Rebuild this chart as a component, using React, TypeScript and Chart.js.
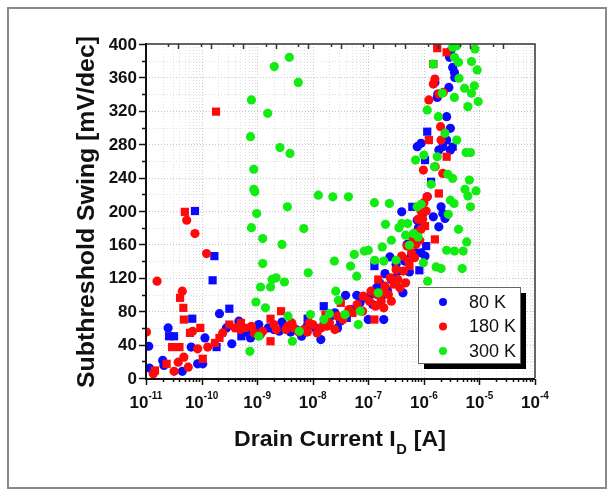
import React, { useEffect, useRef } from "react";
import { Chart, registerables } from "chart.js";

Chart.register(...registerables);

// ---- axis definitions ----
const xMin = 1e-11;
const xMax = 1e-4;
const xTickExponents = [-11, -10, -9, -8, -7, -6, -5, -4];
const yTicks = [0, 40, 80, 120, 160, 200, 240, 280, 320, 360, 400];
const yTitle = "Subthreshold Swing [mV/dec]";
const xTitleMain = "Drain Current I";
const xTitleSub = "D";
const xTitleEnd = " [A]";

// ---- series ----
const seriesLabels = ["80 K", "180 K", "300 K"];
const seriesColors = ["#0a0aff", "#ff0a0a", "#12ec12"];

// 80 K
const k80Circles: [number, number][] = [
  [1.12e-11, 38], [1.15e-11, 12], [2.0e-11, 21], [2.5e-11, 60], [2.1e-11, 15], [4.5e-11, 8],
  [6.5e-11, 37], [8.5e-11, 17], [1.05e-10, 17], [1.15e-10, 48], [2.1e-10, 77], [3.5e-10, 41],
  [2.8e-10, 60], [4.7e-10, 68], [7.6e-10, 48], [1.07e-9, 64], [2.0e-9, 58], [2.8e-9, 67],
  [6.3e-9, 50], [1.4e-8, 46], [2.5e-8, 78], [3.9e-8, 99], [6.2e-8, 99], [1.0e-7, 70],
  [1.9e-7, 70], [1.6e-7, 114], [2.45e-7, 145], [2.6e-7, 118], [4.2e-7, 102], [4.0e-7, 199],
  [5.5e-7, 127], [7.1e-7, 150], [7.6e-7, 189], [8.9e-7, 150], [1.05e-6, 146], [7.6e-7, 277],
  [8.9e-7, 281], [1.15e-6, 217], [1.48e-6, 193], [1.58e-6, 354], [1.74e-6, 336], [1.86e-6, 181],
  [2.04e-6, 205], [2.19e-6, 197], [2.4e-6, 191], [2.82e-6, 348], [3.0e-6, 299], [3.0e-6, 273],
  [2.57e-6, 313], [2.9e-6, 384], [3.05e-6, 392], [3.3e-6, 372], [3.55e-6, 366], [2.57e-6, 285],
  [2.19e-6, 277], [3.6e-6, 360], [1.78e-6, 340], [1.86e-6, 273],
  [6.3e-10, 55], [1.0e-9, 58], [1.58e-9, 60], [2.5e-9, 56], [5.0e-9, 58], [7.9e-9, 62],
  [1.12e-8, 60], [2.0e-8, 72], [3.16e-8, 68], [5.0e-8, 82], [7.1e-8, 90], [8.9e-8, 96],
  [1.12e-7, 100], [1.41e-7, 108], [2.0e-7, 125], [3.16e-7, 136], [4.5e-7, 140], [5.0e-7, 160],
  [1.2e-7, 88], [1.7e-7, 96], [2.2e-7, 105], [3.0e-7, 120], [3.5e-7, 128], [5.8e-7, 145],
  [6.6e-7, 170], [8.0e-7, 180], [9.3e-7, 195], [3.0e-9, 62], [4.0e-9, 55], [1.6e-8, 65],
  [2.8e-8, 60],
];
const k80Squares: [number, number][] = [
  [2.6e-11, 50], [3.2e-11, 50], [6.8e-11, 71], [7.6e-11, 200], [1.7e-10, 146], [1.58e-10, 117],
  [1.86e-10, 37], [3.16e-10, 83], [5.2e-10, 50], [8.1e-9, 71], [1.58e-8, 86], [4.1e-8, 72],
  [1.29e-7, 134], [6.2e-7, 205], [8.3e-7, 129], [1.1e-6, 158], [1.15e-6, 295], [1.05e-6, 261],
  [1.35e-6, 235], [3.3e-6, 277],
];

// 180 K
const k180Circles: [number, number][] = [
  [1.02e-11, 55], [1.35e-11, 5], [1.58e-11, 116], [3.2e-11, 8], [3.8e-11, 19], [4.5e-11, 104],
  [5.4e-11, 189], [4.8e-11, 25], [5.75e-11, 13], [6.9e-11, 56], [7.6e-11, 173], [8.5e-11, 35],
  [1.23e-10, 149], [1.29e-10, 37], [2.4e-10, 54], [4.0e-10, 60], [8.9e-10, 54], [1.15e-9, 52],
  [2.2e-9, 58], [3.3e-9, 58], [4.6e-9, 60], [6.9e-9, 58], [8.7e-9, 66], [1.2e-8, 54],
  [2.5e-8, 58], [3.5e-8, 70], [7.9e-8, 80], [1.78e-7, 102], [1.9e-7, 84], [2.6e-7, 92],
  [3.7e-7, 108], [4.7e-7, 114], [6.8e-7, 144], [8.9e-7, 178], [9.8e-7, 249], [1.15e-6, 217],
  [1.23e-6, 333], [1.48e-6, 352], [1.58e-6, 358], [1.6e-6, 253], [2.04e-6, 285], [2.19e-6, 245],
  [2.24e-6, 342], [2.0e-6, 301], [1.86e-6, 340],
  [5.0e-10, 58], [7.9e-10, 62], [1.26e-9, 56], [2.0e-9, 64], [3.55e-9, 62], [5.6e-9, 55],
  [1.0e-8, 64], [1.41e-8, 60], [2.0e-8, 66], [2.8e-8, 74], [4.5e-8, 82], [6.3e-8, 88],
  [8.1e-8, 98], [1.12e-7, 104], [1.41e-7, 100], [2.0e-7, 110], [2.5e-7, 120], [3.16e-7, 130],
  [4.0e-7, 146], [5.0e-7, 158], [6.3e-7, 168], [7.9e-7, 190], [8.9e-7, 200], [1.0e-6, 210],
  [1.05e-7, 92], [1.35e-7, 86], [1.7e-7, 92], [2.3e-7, 100], [3.4e-7, 118], [4.3e-7, 128],
  [5.3e-7, 140], [6.0e-7, 150], [7.2e-7, 160], [8.4e-7, 165], [9.5e-7, 190], [1.1e-6, 200],
  [4.2e-9, 66], [8.0e-9, 55], [1.8e-8, 62],
];
const k180Squares: [number, number][] = [
  [1.45e-11, 9], [2.35e-11, 17], [2.95e-11, 37], [4.0e-11, 37], [4.1e-11, 96], [4.7e-11, 84],
  [4.8e-11, 70], [5.0e-11, 199], [6.2e-11, 54], [9.5e-11, 60], [1.05e-10, 23], [1.74e-10, 42],
  [1.82e-10, 319], [2.1e-10, 48], [3.16e-10, 64], [5.1e-10, 66], [6.0e-10, 60], [1.74e-9, 71],
  [1.74e-9, 44], [2.7e-9, 80], [1.7e-8, 76], [3.2e-8, 90], [5.2e-8, 78], [1.29e-7, 70],
  [1.51e-7, 118], [2.9e-7, 112], [5.5e-7, 134], [7.4e-7, 174], [1.05e-6, 182], [1.23e-6, 285],
  [1.48e-6, 376], [1.74e-6, 395], [1.86e-6, 221], [1.58e-6, 166], [2.57e-6, 390], [2.57e-6, 265],
];

// 300 K
const k300Circles: [number, number][] = [
  [7.4e-10, 32], [7.6e-10, 289], [7.9e-10, 333], [7.9e-10, 180], [8.7e-10, 226], [8.7e-10, 250],
  [9.1e-10, 223], [9.5e-10, 91], [9.8e-10, 197], [1.07e-9, 50], [1.15e-9, 109], [1.26e-9, 137],
  [1.26e-9, 167], [1.41e-9, 84], [1.55e-9, 317], [1.74e-9, 109], [1.86e-9, 118], [2.04e-9, 373],
  [2.2e-9, 120], [2.57e-9, 276], [2.8e-9, 160], [3.1e-9, 115], [3.5e-9, 205], [3.6e-9, 74],
  [3.8e-9, 384], [3.9e-9, 269], [4.3e-9, 44], [5.5e-9, 354], [5.75e-9, 56], [6.9e-9, 179],
  [8.3e-9, 126], [9.1e-9, 76], [1.26e-8, 219], [1.58e-8, 70], [2.0e-8, 77], [2.3e-8, 217],
  [2.45e-8, 140], [2.6e-8, 104], [2.9e-8, 93], [3.8e-8, 76], [4.4e-8, 217], [4.8e-8, 134],
  [5.6e-8, 148], [6.2e-8, 122], [6.6e-8, 64], [7.2e-8, 80], [8.5e-8, 152], [1.0e-7, 153],
  [1.29e-7, 210], [1.3e-7, 141], [1.51e-7, 102], [1.78e-7, 157], [1.9e-7, 140], [2.04e-7, 184],
  [2.4e-7, 209], [2.6e-7, 165], [3.16e-7, 141], [3.55e-7, 180], [4.0e-7, 185], [4.7e-7, 171],
  [5.1e-7, 185], [5.5e-7, 159], [6.5e-7, 173], [7.1e-7, 261], [7.6e-7, 205], [7.9e-7, 169],
  [8.9e-7, 208], [9.8e-7, 138], [1.0e-6, 267], [1.15e-6, 321], [1.17e-6, 116], [1.35e-6, 232],
  [1.48e-6, 376], [1.55e-6, 253], [1.66e-6, 133], [1.74e-6, 265], [1.82e-6, 313], [2.04e-6, 131],
  [2.14e-6, 341], [2.4e-6, 293], [2.57e-6, 153], [2.7e-6, 244], [2.75e-6, 196], [3.0e-6, 213],
  [3.3e-6, 239], [3.55e-6, 152], [3.55e-6, 336], [3.9e-6, 285], [3.9e-6, 398], [3.55e-6, 384],
  [4.2e-6, 378], [4.3e-6, 359], [4.2e-6, 178], [3.5e-6, 209], [4.9e-6, 131], [5.1e-6, 152],
  [5.4e-6, 347], [5.75e-6, 270], [5.5e-6, 226], [6.2e-6, 218], [5.9e-6, 163], [6.2e-6, 325],
  [6.9e-6, 205], [7.2e-6, 341], [6.9e-6, 270], [7.2e-6, 379], [8.1e-6, 350], [8.3e-6, 394],
  [8.7e-6, 224], [9.1e-6, 369], [9.5e-6, 331], [6.6e-6, 237], [3.3e-6, 396],
];

const toPoints = (arr: [number, number][]) => arr.map(([x, y]) => ({ x, y }));

const FONT = '"Liberation Sans", Arial, sans-serif';

const decorPlugin = {
  id: "decor",
  beforeDatasetsDraw(chart: any) {
    const { ctx, chartArea: a, scales } = chart;
    const x = scales.x;
    const y = scales.y;
    ctx.save();
    ctx.lineWidth = 1;
    ctx.setLineDash([1, 2]);
    for (let e = -11; e < -4; e++) {
      for (let m = 1; m < 10; m++) {
        const px = Math.round(x.getPixelForValue(m * Math.pow(10, e))) + 0.5;
        ctx.strokeStyle = m === 1 ? "#c4c4c4" : "#e0e0e0";
        ctx.beginPath();
        ctx.moveTo(px, a.top);
        ctx.lineTo(px, a.bottom);
        ctx.stroke();
      }
    }
    for (let v = 20; v < 400; v += 20) {
      const py = Math.round(y.getPixelForValue(v)) + 0.5;
      ctx.strokeStyle = v % 40 === 0 ? "#c4c4c4" : "#e0e0e0";
      ctx.beginPath();
      ctx.moveTo(a.left, py);
      ctx.lineTo(a.right, py);
      ctx.stroke();
    }
    ctx.restore();
  },
  afterDatasetsDraw(chart: any) {
    const { ctx, chartArea: a, scales } = chart;
    const x = scales.x;
    const y = scales.y;
    ctx.save();
    ctx.setLineDash([]);

    // frame
    ctx.strokeStyle = "#333";
    ctx.lineWidth = 1.5;
    ctx.beginPath();
    ctx.moveTo(a.left, a.top);
    ctx.lineTo(a.right, a.top);
    ctx.lineTo(a.right, a.bottom);
    ctx.stroke();
    ctx.strokeStyle = "#111";
    ctx.lineWidth = 2;
    ctx.beginPath();
    ctx.moveTo(a.left, a.top - 1);
    ctx.lineTo(a.left, a.bottom + 1);
    ctx.lineTo(a.right, a.bottom + 1);
    ctx.stroke();

    // left ticks
    ctx.lineWidth = 1.5;
    ctx.strokeStyle = "#111";
    for (let v = 0; v <= 400; v += 20) {
      const py = Math.round(y.getPixelForValue(v)) + 0.5;
      const len = v % 40 === 0 ? 6 : 3;
      ctx.beginPath();
      ctx.moveTo(a.left - 1, py);
      ctx.lineTo(a.left - 1 - len, py);
      ctx.stroke();
    }
    // bottom ticks
    for (let e = -11; e <= -4; e++) {
      for (let m = 1; m < 10; m++) {
        if (e === -4 && m > 1) break;
        const px = Math.round(x.getPixelForValue(m * Math.pow(10, e))) + 0.5;
        const len = m === 1 ? 6 : 3;
        ctx.beginPath();
        ctx.moveTo(px, a.bottom + 1);
        ctx.lineTo(px, a.bottom + 1 + len);
        ctx.stroke();
      }
    }
    // top ticks (inward)
    ctx.strokeStyle = "#333";
    const step = (a.right - a.left) / 12;
    for (let k = 1; k < 12; k++) {
      const pl = Math.round(a.left + k * step) + 0.5;
      ctx.beginPath();
      ctx.moveTo(pl, a.top);
      ctx.lineTo(pl, a.top + 5);
      ctx.stroke();
      const ps = Math.round(a.left + k * step - 10) + 0.5;
      ctx.beginPath();
      ctx.moveTo(ps, a.top);
      ctx.lineTo(ps, a.top + 3);
      ctx.stroke();
    }

    // y tick labels
    ctx.fillStyle = "#111";
    ctx.font = `bold 17px ${FONT}`;
    ctx.textAlign = "right";
    ctx.textBaseline = "middle";
    for (const v of yTicks) {
      ctx.fillText(String(v), a.left - 9, y.getPixelForValue(v) + 1);
    }

    // x tick labels: 10^e
    ctx.textAlign = "left";
    ctx.textBaseline = "alphabetic";
    for (const e of xTickExponents) {
      const px = x.getPixelForValue(Math.pow(10, e));
      ctx.font = `bold 17px ${FONT}`;
      const wb = ctx.measureText("10").width;
      ctx.font = `bold 10px ${FONT}`;
      const exp = String(e);
      const we = ctx.measureText(exp).width;
      const start = px - (wb + we) / 2;
      ctx.font = `bold 17px ${FONT}`;
      ctx.fillText("10", start, a.bottom + 30);
      ctx.font = `bold 10px ${FONT}`;
      ctx.fillText(exp, start + wb, a.bottom + 21);
    }

    // x title with subscript
    ctx.save();
    const cx = 340;
    const by = 446;
    ctx.translate(cx, by);
    ctx.scale(1.05, 1);
    ctx.font = `bold 22px ${FONT}`;
    const w1 = ctx.measureText(xTitleMain).width;
    const w3 = ctx.measureText(xTitleEnd).width;
    ctx.font = `bold 14px ${FONT}`;
    const w2 = ctx.measureText(xTitleSub).width;
    let sx = -(w1 + w2 + 1 + w3) / 2;
    ctx.font = `bold 22px ${FONT}`;
    ctx.fillText(xTitleMain, sx, 0);
    sx += w1;
    ctx.font = `bold 14px ${FONT}`;
    ctx.fillText(xTitleSub, sx + 0.5, 8);
    sx += w2 + 1;
    ctx.font = `bold 22px ${FONT}`;
    ctx.fillText(xTitleEnd, sx, 0);
    ctx.restore();

    // y title rotated
    ctx.save();
    ctx.translate(87, 212);
    ctx.rotate(-Math.PI / 2);
    ctx.textAlign = "center";
    ctx.textBaseline = "middle";
    ctx.font = `bold 24px ${FONT}`;
    const wy = ctx.measureText(yTitle).width;
    ctx.scale(352 / wy, 1);
    ctx.fillText(yTitle, 0, 0);
    ctx.restore();

    // legend
    const lx = 418, ly = 287, lw = 102, lh = 76;
    ctx.fillStyle = "#000";
    ctx.fillRect(lx + 6, ly + 6, lw, lh);
    ctx.fillStyle = "#fff";
    ctx.fillRect(lx, ly, lw, lh);
    ctx.strokeStyle = "#666";
    ctx.lineWidth = 1;
    ctx.strokeRect(lx + 0.5, ly + 0.5, lw, lh);
    ctx.font = `18px ${FONT}`;
    ctx.textAlign = "left";
    ctx.textBaseline = "middle";
    seriesLabels.forEach((lab, i) => {
      const ry = ly + 15 + i * 24.5;
      ctx.fillStyle = seriesColors[i];
      ctx.beginPath();
      ctx.arc(lx + 25, ry, 4, 0, Math.PI * 2);
      ctx.fill();
      ctx.fillStyle = "#111";
      ctx.fillText(lab, lx + 51, ry + 1);
    });

    // outer border
    ctx.strokeStyle = "#8a8a8a";
    ctx.lineWidth = 2;
    ctx.strokeRect(8, 8, 598, 480);

    ctx.restore();
  },
};

export default function App() {
  const ref = useRef<HTMLCanvasElement | null>(null);
  useEffect(() => {
    document.body.style.margin = "0";
    const canvas = ref.current;
    if (!canvas) return;
    const circle = { pointStyle: "circle", pointRadius: 4.6, borderWidth: 0, clip: 0 };
    const square = { pointStyle: "rect", pointRadius: 5.8, borderWidth: 0, clip: 0 };
    const chart = new Chart(canvas, {
      type: "scatter",
      data: {
        datasets: [
          { label: seriesLabels[0], data: toPoints(k80Circles), backgroundColor: seriesColors[0], order: 3, ...circle },
          { label: seriesLabels[0] + " sq", data: toPoints(k80Squares), backgroundColor: seriesColors[0], order: 3, ...square },
          { label: seriesLabels[1], data: toPoints(k180Circles), backgroundColor: seriesColors[1], order: 2, ...circle },
          { label: seriesLabels[1] + " sq", data: toPoints(k180Squares), backgroundColor: seriesColors[1], order: 2, ...square },
          { label: seriesLabels[2], data: toPoints(k300Circles), backgroundColor: seriesColors[2], order: 1, ...circle },
        ] as any,
      },
      options: {
        animation: false,
        responsive: false,
        devicePixelRatio: 1,
        events: [],
        layout: { padding: { left: 146, top: 44, right: 78, bottom: 115 } },
        scales: {
          x: { type: "logarithmic", min: xMin, max: xMax, display: false },
          y: { type: "linear", min: 0, max: 400, display: false },
        },
        plugins: { legend: { display: false }, tooltip: { enabled: false } },
      } as any,
      plugins: [decorPlugin],
    });
    return () => chart.destroy();
  }, []);
  return (
    <div style={{ width: 613, height: 493, background: "#fff" }}>
      <canvas ref={ref} width={613} height={493} style={{ display: "block" }} />
    </div>
  );
}
